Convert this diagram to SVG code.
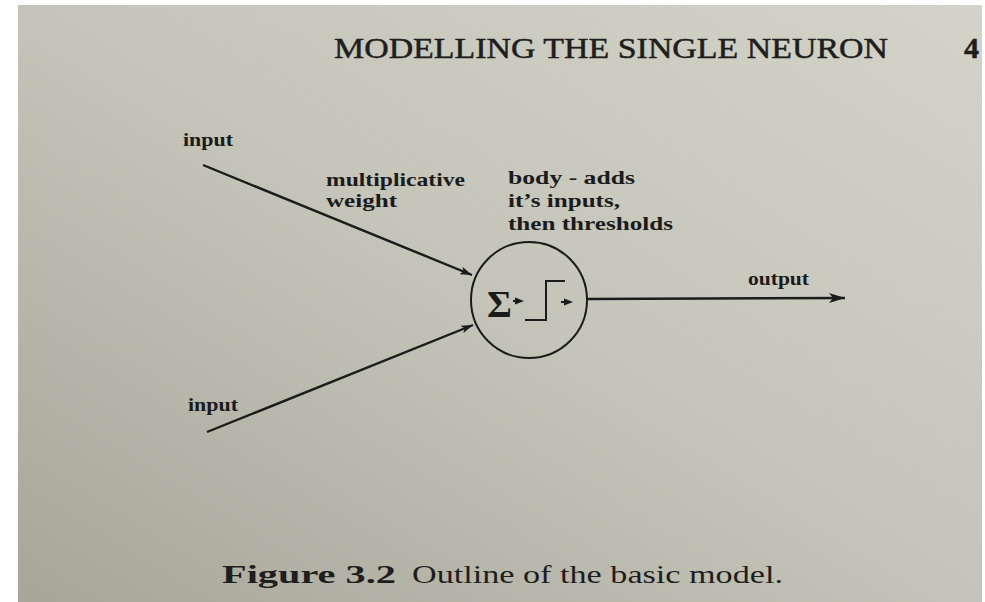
<svg xmlns="http://www.w3.org/2000/svg" width="985" height="602" viewBox="0 0 985 602">
  <defs>
    <linearGradient id="page" x1="1" y1="0" x2="0" y2="1">
      <stop offset="0" stop-color="#d3d3c8"/>
      <stop offset="0.5" stop-color="#c4c4b8"/>
      <stop offset="1" stop-color="#a8a699"/>
    </linearGradient>
    <marker id="headS" viewBox="0 0 12 8" refX="12" refY="4" markerWidth="12" markerHeight="8" markerUnits="userSpaceOnUse" orient="auto">
      <path d="M0,0 L12,4 L0,8 L3,4 Z" fill="#1b1b1b"/>
    </marker>
    <marker id="headL" viewBox="0 0 16 10" refX="16" refY="5" markerWidth="16" markerHeight="10" markerUnits="userSpaceOnUse" orient="auto">
      <path d="M0,0 L16,5 L0,10 L4,5 Z" fill="#1b1b1b"/>
    </marker>
    <style>
      .lbl { font-family: "Liberation Serif", "Times New Roman", serif; font-weight: bold; font-size: 19px; fill: #1b1b1b; }
      .hdr { font-family: "Liberation Serif", "Times New Roman", serif; font-size: 30px; fill: #1e1e1e; stroke: #1e1e1e; stroke-width: 0.5; }
      .cap { font-family: "Liberation Serif", "Times New Roman", serif; font-size: 26px; fill: #1e1e1e; }
      .edge { stroke: #1b1b1b; stroke-width: 2.4; fill: none; }
      .ink { stroke: #1b1b1b; stroke-width: 2; fill: none; }
    </style>
  </defs>

  <rect x="0" y="0" width="985" height="602" fill="#ffffff"/>
  <rect x="18" y="5" width="964" height="597" fill="url(#page)"/>

  <g id="header">
    <text class="hdr" x="334" y="58" textLength="554" lengthAdjust="spacingAndGlyphs">MODELLING THE SINGLE NEURON</text>
    <text class="hdr" x="964" y="58" font-weight="bold">4</text>
  </g>

  <g id="connectors">
    <line class="edge" x1="203" y1="165" x2="472" y2="275" marker-end="url(#headS)"/>
    <line class="edge" x1="207" y1="432" x2="473" y2="325" marker-end="url(#headS)"/>
    <line class="edge" x1="587" y1="299" x2="845" y2="298" marker-end="url(#headL)"/>
  </g>

  <g id="neuron">
    <circle class="ink" cx="529" cy="300" r="58" stroke-width="2.6"/>
    <text x="487" y="317" font-family="Liberation Serif, Times New Roman, serif" font-weight="bold" font-size="38" fill="#1b1b1b">Σ</text>
    <line class="ink" x1="513" y1="301" x2="518" y2="301"/>
    <path d="M515,297.5 L524,301 L515,304.5 Z" fill="#1b1b1b"/>
    <polyline class="ink" points="525,320 546,320 546,281 565,281"/>
    <line class="ink" x1="561" y1="302" x2="566" y2="302"/>
    <path d="M564,298.5 L573,302 L564,305.5 Z" fill="#1b1b1b"/>
  </g>

  <g id="input-top">
    <text class="lbl" x="183" y="146" textLength="50" lengthAdjust="spacingAndGlyphs">input</text>
  </g>
  <g id="input-bottom">
    <text class="lbl" x="188" y="411" textLength="50" lengthAdjust="spacingAndGlyphs">input</text>
  </g>
  <g id="weight-label">
    <text class="lbl" x="326" y="186" textLength="139" lengthAdjust="spacingAndGlyphs">multiplicative</text>
    <text class="lbl" x="326" y="207" textLength="71" lengthAdjust="spacingAndGlyphs">weight</text>
  </g>
  <g id="body-label">
    <text class="lbl" x="508" y="184" textLength="127" lengthAdjust="spacingAndGlyphs">body - adds</text>
    <text class="lbl" x="508" y="207" textLength="112" lengthAdjust="spacingAndGlyphs">it’s inputs,</text>
    <text class="lbl" x="508" y="230" textLength="165" lengthAdjust="spacingAndGlyphs">then thresholds</text>
  </g>
  <g id="output">
    <text class="lbl" x="748" y="285" textLength="61" lengthAdjust="spacingAndGlyphs">output</text>
  </g>

  <g id="caption">
    <text class="cap" x="222" y="583" font-weight="bold" textLength="174" lengthAdjust="spacingAndGlyphs">Figure 3.2</text>
    <text class="cap" x="412" y="583" textLength="371" lengthAdjust="spacingAndGlyphs">Outline of the basic model.</text>
  </g>

  <rect x="982" y="0" width="3" height="602" fill="#ffffff"/>
</svg>
